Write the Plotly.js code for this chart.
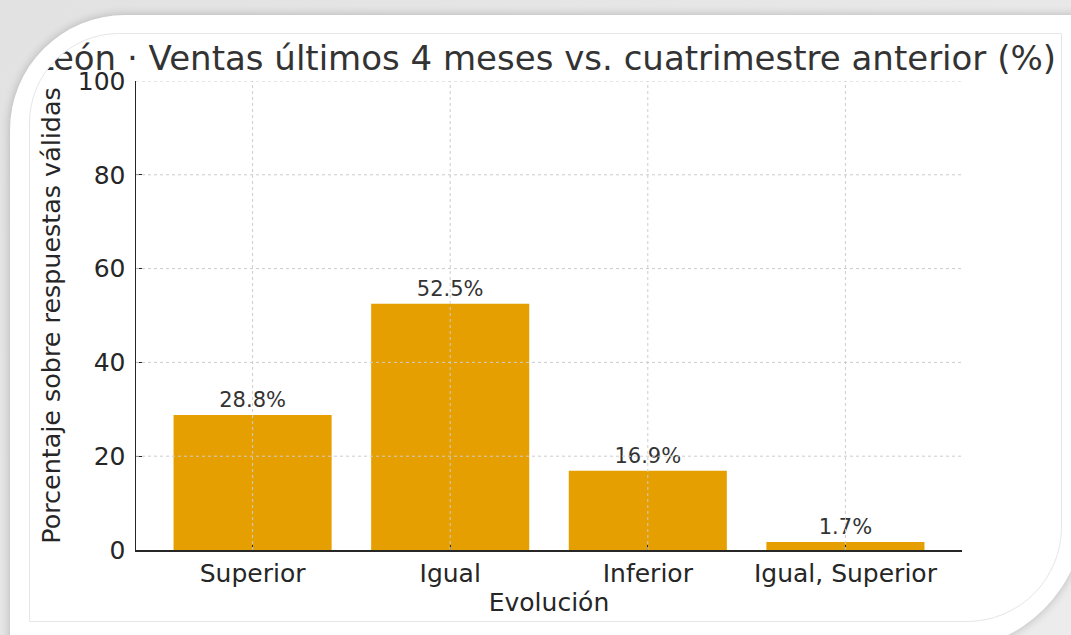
<!DOCTYPE html>
<html>
<head>
<meta charset="utf-8">
<script src="https://cdn.plot.ly/plotly-3.0.1.min.js"></script>
<style>
  html, body { margin: 0; padding: 0; width: 1071px; height: 635px; overflow: hidden; }
  body { background: linear-gradient(135deg, #e2e2e2 0%, #ececec 100%); position: relative; }
  #card {
    position: absolute; left: 10px; top: 15px; width: 1075px; height: 635px;
    background: #ffffff;
    border-top-left-radius: 115px; border-bottom-right-radius: 140px;
    box-shadow: 0 0 10px rgba(0,0,0,0.22);
  }
  #inner {
    position: absolute; left: 29px; top: 33px; width: 1031px; height: 587px;
    border: 1px solid #e6e6e6;
    border-top-left-radius: 90px; border-bottom-right-radius: 95px;
    overflow: hidden; background: #ffffff;
  }
  #chart { position: absolute; left: -30px; top: -34px; width: 1071px; height: 635px; }
</style>
</head>
<body>
<div id="card"></div>
<div id="inner"><div id="chart"></div></div>
<script>
const categories = ["Superior", "Igual", "Inferior", "Igual, Superior"];
const percentages = [28.8, 52.5, 16.9, 1.7];
const yTicks = [0, 20, 40, 60, 80, 100];
const chartTitle = "León · Ventas últimos 4 meses vs. cuatrimestre anterior (%)";
const xTitle = "Evolución";
const yTitle = "Porcentaje sobre respuestas válidas";

const font = "DejaVu Sans, Verdana, sans-serif";
const gridStyle = { color: "#cccccc", width: 1, dash: "3px,3px" };

const shapes = [];
yTicks.filter(v => v > 0).forEach(v => {
  shapes.push({ type: "line", layer: "above", xref: "paper", x0: 0, x1: 1, yref: "y", y0: v, y1: v, line: gridStyle });
});
categories.forEach(c => {
  shapes.push({ type: "line", layer: "above", xref: "x", x0: c, x1: c, yref: "paper", y0: 0, y1: 1, line: gridStyle });
});

const trace = {
  type: "bar",
  x: categories,
  y: percentages,
  marker: { color: "#E69F00", line: { width: 0 } },
  text: percentages.map(v => v.toFixed(1) + "%"),
  textposition: "outside",
  textfont: { family: font, size: 21, color: "#333333" },
  cliponaxis: false,
  hoverinfo: "none"
};

const layout = {
  width: 1071, height: 635,
  margin: { l: 136, r: 109, t: 81, b: 85, pad: 0 },
  paper_bgcolor: "rgba(0,0,0,0)",
  plot_bgcolor: "rgba(0,0,0,0)",
  font: { family: font, color: "#262626" },
  bargap: 0.2,
  showlegend: false,
  title: {
    text: chartTitle,
    font: { family: font, size: 34, color: "#333333" },
    xref: "container", x: 1056 / 1071, xanchor: "right",
    yref: "container", y: 1 - 58 / 635, yanchor: "middle"
  },
  xaxis: {
    type: "category",
    categoryorder: "array", categoryarray: categories,
    range: [-0.59, 3.59],
    showline: true, linecolor: "#262626", linewidth: 1.5,
    ticks: "inside", ticklen: 5, tickwidth: 1.2, tickcolor: "#262626",
    tickfont: { family: font, size: 25, color: "#262626" },
    showgrid: false, zeroline: false,
    title: { text: xTitle, font: { family: font, size: 25, color: "#262626" }, standoff: 7 }
  },
  yaxis: {
    range: [0, 100],
    tickvals: yTicks,
    showline: true, linecolor: "#262626", linewidth: 1.5,
    ticks: "inside", ticklen: 6, tickwidth: 1.2, tickcolor: "#262626",
    tickfont: { family: font, size: 25, color: "#262626" },
    ticklabelstandoff: 4,
    showgrid: false, zeroline: false,
    title: { text: yTitle, font: { family: font, size: 25.4, color: "#262626" }, standoff: 10 }
  },
  shapes: shapes
};

Plotly.newPlot("chart", [trace], layout, { staticPlot: true, displayModeBar: false });
</script>
</body>
</html>
